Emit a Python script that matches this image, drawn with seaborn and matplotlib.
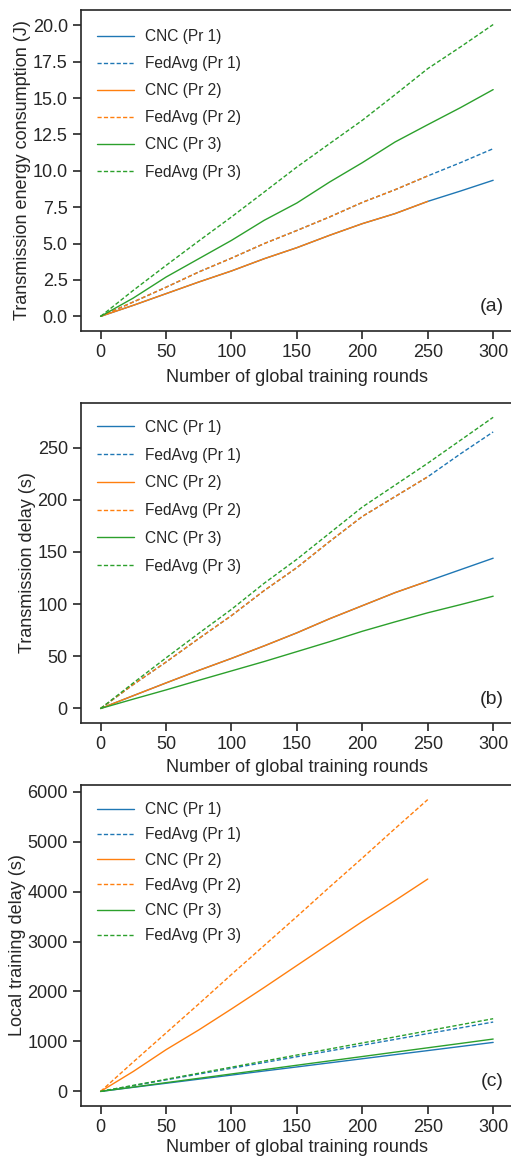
import matplotlib
matplotlib.use("Agg")
import matplotlib.pyplot as plt
import numpy as np
import pandas as pd
import seaborn as sns

# ---------------- data ----------------
rounds_300 = [0, 25, 50, 75, 100, 125, 150, 175, 200, 225, 250, 275, 300]
rounds_250 = [0, 25, 50, 75, 100, 125, 150, 175, 200, 225, 250]

labels = ["CNC (Pr 1)", "FedAvg (Pr 1)", "CNC (Pr 2)", "FedAvg (Pr 2)", "CNC (Pr 3)", "FedAvg (Pr 3)"]

# (a) transmission energy consumption (J)
a_cnc_pr1 = [0, 0.76, 1.56, 2.36, 3.12, 3.96, 4.72, 5.57, 6.37, 7.06, 7.9, 8.61, 9.35]
a_fed_pr1 = [0, 0.99, 2.0, 3.05, 4.0, 5.0, 5.9, 6.83, 7.83, 8.7, 9.65, 10.56, 11.52]
a_cnc_pr2 = [0, 0.76, 1.56, 2.36, 3.12, 3.96, 4.72, 5.57, 6.37, 7.06, 7.9]
a_fed_pr2 = [0, 0.99, 2.0, 3.05, 4.0, 5.0, 5.9, 6.83, 7.83, 8.7, 9.65]
a_cnc_pr3 = [0, 1.26, 2.7, 3.96, 5.22, 6.6, 7.79, 9.23, 10.56, 11.98, 13.17, 14.34, 15.58]
a_fed_pr3 = [0, 1.79, 3.5, 5.18, 6.83, 8.54, 10.26, 11.87, 13.47, 15.23, 17.02, 18.51, 20.05]

# (b) transmission delay (s)
b_cnc_pr1 = [0, 12.3, 24.5, 36.5, 48, 60, 72.5, 86, 98.5, 111, 122, 133, 144]
b_fed_pr1 = [0, 23, 44.5, 67, 89, 113, 135, 160, 184, 203, 222, 244, 265]
b_cnc_pr2 = [0, 12.3, 24.5, 36.5, 48, 60, 72.5, 86, 98.5, 111, 122]
b_fed_pr2 = [0, 23, 44.5, 67, 89, 113, 135, 160, 184, 203, 222]
b_cnc_pr3 = [0, 9, 17.8, 27, 36, 45, 54.5, 64, 74, 83, 91.7, 99.5, 107.6]
b_fed_pr3 = [0, 24.5, 48.5, 72, 95, 120, 143, 168, 193, 214, 235, 257, 279]

# (c) local training delay (s)
c_cnc_pr1 = [0, 82, 163, 245, 327, 409, 490, 572, 654, 736, 817, 899, 981]
c_fed_pr1 = [0, 116, 231, 347, 463, 578, 694, 810, 925, 1041, 1157, 1272, 1388]
c_cnc_pr2 = [0, 400, 835, 1230, 1650, 2080, 2520, 2960, 3400, 3820, 4250]
c_fed_pr2 = [0, 590, 1170, 1750, 2340, 2920, 3500, 4090, 4670, 5260, 5840]
c_cnc_pr3 = [0, 87, 175, 262, 349, 436, 524, 611, 698, 786, 873, 960, 1048]
c_fed_pr3 = [0, 121, 243, 364, 485, 606, 728, 849, 970, 1091, 1213, 1334, 1455]

xticks = [0, 50, 100, 150, 200, 250, 300]

# ---------------- style ----------------
sns.set_theme(style="ticks")
plt.rcParams['font.family'] = ['Liberation Sans', 'DejaVu Sans']
TXT = "#262626"
plt.rcParams.update({
    "text.color": TXT, "axes.labelcolor": TXT,
    "xtick.color": TXT, "ytick.color": TXT, "axes.edgecolor": TXT,
    "axes.linewidth": 1.2,
    "xtick.major.size": 6, "ytick.major.size": 6,
    "xtick.major.width": 1.2, "ytick.major.width": 1.2,
})

colors = ["#1f77b4", "#1f77b4", "#ff7f0e", "#ff7f0e", "#2ca02c", "#2ca02c"]
DASH = (0, (3.0, 1.6))
styles = ["-", DASH, "-", DASH, "-", DASH]

fig = plt.figure(figsize=(5.11, 11.58), dpi=100)

panels = [
    dict(pos=[0.1585, 0.7142, 0.845, 0.2772],
         series=[(rounds_300, a_cnc_pr1), (rounds_300, a_fed_pr1), (rounds_250, a_cnc_pr2),
                 (rounds_250, a_fed_pr2), (rounds_300, a_cnc_pr3), (rounds_300, a_fed_pr3)],
         ylabel="Transmission energy consumption (J)", yticks=np.arange(0, 20.1, 2.5),
         fmt="{:.1f}", tag="(a)", spacing=0.78, shift=5, xpad=6),
    dict(pos=[0.1585, 0.3756, 0.845, 0.2766],
         series=[(rounds_300, b_cnc_pr1), (rounds_300, b_fed_pr1), (rounds_250, b_cnc_pr2),
                 (rounds_250, b_fed_pr2), (rounds_300, b_cnc_pr3), (rounds_300, b_fed_pr3)],
         ylabel="Transmission delay (s)", yticks=[0, 50, 100, 150, 200, 250],
         fmt="{:.0f}", tag="(b)", spacing=0.82, shift=3, xpad=4),
    dict(pos=[0.1585, 0.0449, 0.845, 0.2772],
         series=[(rounds_300, c_cnc_pr1), (rounds_300, c_fed_pr1), (rounds_250, c_cnc_pr2),
                 (rounds_250, c_fed_pr2), (rounds_300, c_cnc_pr3), (rounds_300, c_fed_pr3)],
         ylabel="Local training delay (s)", yticks=[0, 1000, 2000, 3000, 4000, 5000, 6000],
         fmt="{:.0f}", tag="(c)", spacing=0.66, shift=3, xpad=2),
]

for p in panels:
    ax = fig.add_axes(p["pos"])
    for (xs, ys), lab, col, ls in zip(p["series"], labels, colors, styles):
        df = pd.DataFrame({"round": xs, "value": ys})
        sns.lineplot(data=df, x="round", y="value", ax=ax, color=col, linestyle=ls,
                     linewidth=1.0, label=lab, estimator=None)
    ax.set_xlim(-15, 315)
    ax.set_xticks(xticks)
    ax.set_yticks(p["yticks"])
    ax.set_yticklabels([p["fmt"].format(v) for v in p["yticks"]])
    ax.tick_params(labelsize=13)
    ax.set_xlabel("Number of global training rounds", fontsize=13, labelpad=p["xpad"])
    ax.set_ylabel(p["ylabel"], fontsize=13, labelpad=1)
    h_px = p["pos"][3] * 1158
    w_px = p["pos"][2] * 511
    ax.legend(loc="upper left", frameon=False, fontsize=11.2, handlelength=2.36,
              handletextpad=0.7, labelspacing=p["spacing"],
              bbox_to_anchor=(2.0 / w_px, 1 - p["shift"] / h_px))
    ax.text(0.952, 0.075, p["tag"], transform=ax.transAxes, ha="center", va="center",
            fontsize=14)

fig.savefig("out.png", dpi=100)
